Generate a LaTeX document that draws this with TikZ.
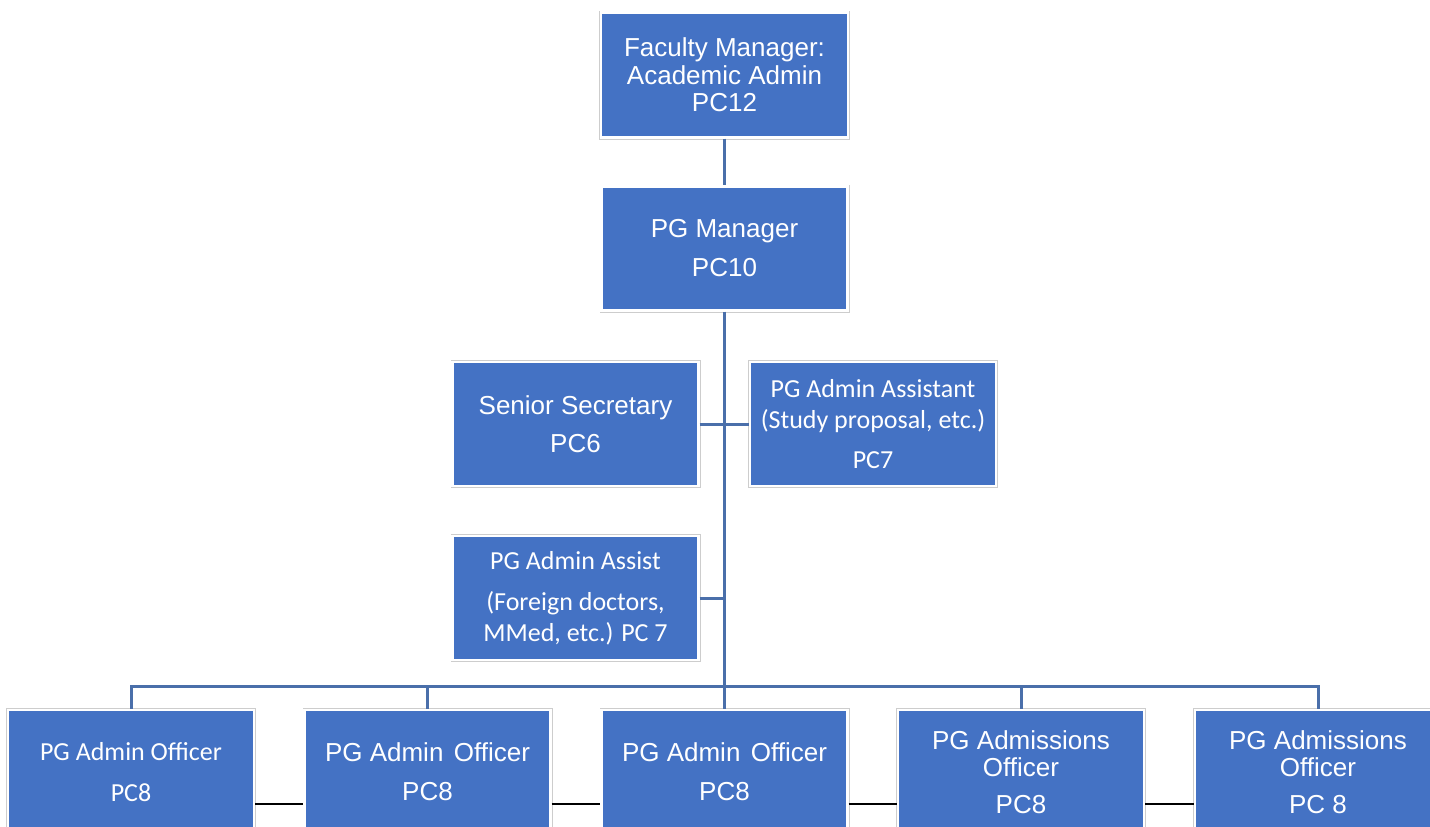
\documentclass[tikz,border=0pt]{standalone}
\usepackage{fontspec}
\setmainfont{Liberation Sans}
\newfontfamily\arialf{Liberation Sans}
\newfontfamily\calf{Carlito}
\definecolor{boxblue}{HTML}{4472C4}
\definecolor{linkblue}{RGB}{74,111,170}
\definecolor{rimgray}{RGB}{205,205,205}
\begin{document}
\begin{tikzpicture}[x=1pt,y=-1pt,
  orgbox/.style={rectangle, fill=boxblue, draw=white, line width=2.2pt,
    preaction={draw=rimgray, line width=4pt},
    minimum width=246pt, minimum height=124pt, inner sep=0pt,
    text=white, align=center},
  ar/.style={font=\arialf\fontsize{26}{27.5}\selectfont},
  ca/.style={font=\calf\fontsize{26}{31}\selectfont},
  link/.style={draw=linkblue, line width=3pt},
  peer/.style={draw=black, line width=2pt}]
\useasboundingbox (0,0) rectangle (1430,827);
\fill[white] (0,0) rectangle (1430,827);

\coordinate (bus) at (724.5,686);

\node[orgbox, ar, minimum width=247pt, minimum height=125pt] (fac) at (724.5,75) {Faculty Manager:\\Academic Admin\\PC12};
\node[orgbox, ar] (pgm) at (724.5,248.5) {PG Manager\\[11.5pt]PC10};
\node[orgbox, ar] (ss) at (575.5,424) {Senior Secretary\\[10.5pt]PC6};
\node[orgbox, ca] (pga) at (873,424) {PG Admin Assistant\\(Study proposal, etc.)\\[9pt]PC7};
\node[orgbox, ca] (pgaa) at (575.5,598) {PG Admin Assist\\[10pt](Foreign doctors,\\MMed, etc.) PC 7};

\node[orgbox, ca] (b1) at (131,772) {PG Admin Officer\\[10pt]PC8};
\node[orgbox, ar] (b2) at (427.5,772) {PG Admin\hspace{0.4em}Officer\\[11.5pt]PC8};
\node[orgbox, ar] (b3) at (724.5,772) {PG Admin\hspace{0.4em}Officer\\[11.5pt]PC8};
\node[orgbox, ar] (b4) at (1021,772) {PG Admissions\\Officer\\[9.5pt]PC8};
\node[orgbox, ar] (b5) at (1318,772) {PG Admissions\\Officer\\[9.5pt]PC 8};

\path[link] (fac.south) -- (pgm.north);
\path[link] (pgm.south) -- (bus);
\path[link] (ss.east) -- (pga.west);
\path[link] (pgaa.east) -- (pgaa.east -| bus);
\path[link] (b1.north) -- (b1.north |- bus) -- (b5.north |- bus) -- (b5.north);
\foreach \b in {b2,b3,b4} \path[link] (\b.north) -- (\b.north |- bus);

\path[peer] ([yshift=-32pt]b1.east) -- ([yshift=-32pt]b2.west);
\path[peer] ([yshift=-32pt]b2.east) -- ([yshift=-32pt]b3.west);
\path[peer] ([yshift=-32pt]b3.east) -- ([yshift=-32pt]b4.west);
\path[peer] ([yshift=-32pt]b4.east) -- ([yshift=-32pt]b5.west);
\end{tikzpicture}
\end{document}
